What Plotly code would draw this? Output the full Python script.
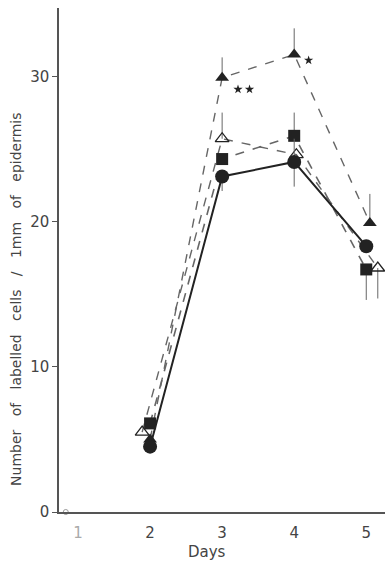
import plotly.graph_objects as go

# Data
days = [2, 3, 4, 5]
circle_y = [4.5, 23.1, 24.1, 18.3]
circle_err_up = [0, 0, 1.6, 0]
circle_err_dn = [0, 1.0, 1.7, 0]

square_y = [6.1, 24.3, 25.9, 16.7]
square_err_up = [0, 0, 1.6, 0]
square_err_dn = [0, 0, 0, 2.1]

open_tri_x = [1.89, 3.0, 4.03, 5.16]
open_tri_y = [5.5, 25.7, 24.6, 16.8]
open_tri_err_up = [0, 1.8, 0, 0]
open_tri_err_dn = [0, 0, 0, 2.1]

filled_tri_x = [2.0, 3.0, 4.0, 5.05]
filled_tri_y = [5.0, 29.9, 31.5, 19.9]
filled_tri_err_up = [0, 1.4, 1.8, 2.0]
filled_tri_err_dn = [0, 0, 0, 0]

star_x = [3.22, 3.38, 4.2]
star_y = [29.1, 29.1, 31.1]

x_ticks = [1, 2, 3, 4, 5]
x_tick_text = ["<span style='color:#aaaaaa'>1</span>", "2", "3", "4", "5"]
y_ticks = [0, 10, 20, 30]

y_title_words = ["Number", "of", "labelled", "cells", "/", "1mm", "of", "epidermis"]

dark = "#222222"
grey = "#666666"

fig = go.Figure()

def err(up, dn, color):
    return dict(type="data", symmetric=False, array=up, arrayminus=dn,
                color=color, thickness=1, width=0)

fig.add_trace(go.Scatter(
    x=filled_tri_x, y=filled_tri_y, mode="lines+markers",
    line=dict(color=grey, width=1.4, dash="dash"),
    marker=dict(symbol="triangle-up", size=12, color=dark),
    error_y=err(filled_tri_err_up, filled_tri_err_dn, grey),
    cliponaxis=False, showlegend=False))

fig.add_trace(go.Scatter(
    x=open_tri_x, y=open_tri_y, mode="lines+markers",
    line=dict(color=grey, width=1.4, dash="dash"),
    marker=dict(symbol="triangle-up-open", size=12, color=dark, line=dict(width=1.3)),
    error_y=err(open_tri_err_up, open_tri_err_dn, grey),
    cliponaxis=False, showlegend=False))

fig.add_trace(go.Scatter(
    x=days, y=square_y, mode="lines+markers",
    line=dict(color=grey, width=1.6, dash="dash"),
    marker=dict(symbol="square", size=12, color=dark),
    error_y=err(square_err_up, square_err_dn, grey),
    cliponaxis=False, showlegend=False))

fig.add_trace(go.Scatter(
    x=days, y=circle_y, mode="lines+markers",
    line=dict(color=dark, width=2),
    marker=dict(symbol="circle", size=14, color=dark),
    error_y=err(circle_err_up, circle_err_dn, grey),
    cliponaxis=False, showlegend=False))

fig.add_trace(go.Scatter(
    x=star_x, y=star_y, mode="markers",
    marker=dict(symbol="star", size=7, color=dark),
    cliponaxis=False, showlegend=False))

# axis-break circle near the origin
fig.add_trace(go.Scatter(
    x=[0.83], y=[0], mode="markers",
    marker=dict(symbol="circle-open", size=5, color="#999999", line=dict(width=1)),
    cliponaxis=False, showlegend=False))

font = "DejaVu Sans, Verdana, sans-serif"
gap = "&nbsp;&nbsp; "

fig.update_layout(
    width=385, height=563,
    margin=dict(l=59, r=0, t=8, b=51),
    plot_bgcolor="white", paper_bgcolor="white",
    font=dict(family=font, color="#444444", size=15),
    xaxis=dict(range=[0.736, 5.26], tickvals=x_ticks, ticktext=x_tick_text,
               showgrid=False, zeroline=False, showline=True, linecolor="#555555",
               linewidth=1.5, ticks="", ticklabelstandoff=6,
               tickfont=dict(size=15, color="#444444")),
    yaxis=dict(range=[0, 34.7], tickvals=y_ticks, showgrid=False, zeroline=False,
               showline=True, linecolor="#555555", linewidth=1.5,
               ticks="outside", ticklen=5, tickcolor="#555555",
               tickfont=dict(size=15, color="#444444")),
    annotations=[
        dict(text=gap.join(y_title_words), textangle=-90,
             xref="paper", x=0, xanchor="center", xshift=-43,
             yref="y", y=14.6, yanchor="middle",
             showarrow=False, font=dict(size=14, color="#444444")),
        dict(text="Days", xref="x", x=2.79, xanchor="center",
             yref="paper", y=0, yshift=-40,
             yanchor="middle", showarrow=False, font=dict(size=15, color="#444444")),
    ],
)

fig.write_html("out.html", config={"displayModeBar": False},
               post_script="document.body.style.margin='0';document.body.style.overflow='hidden';")
